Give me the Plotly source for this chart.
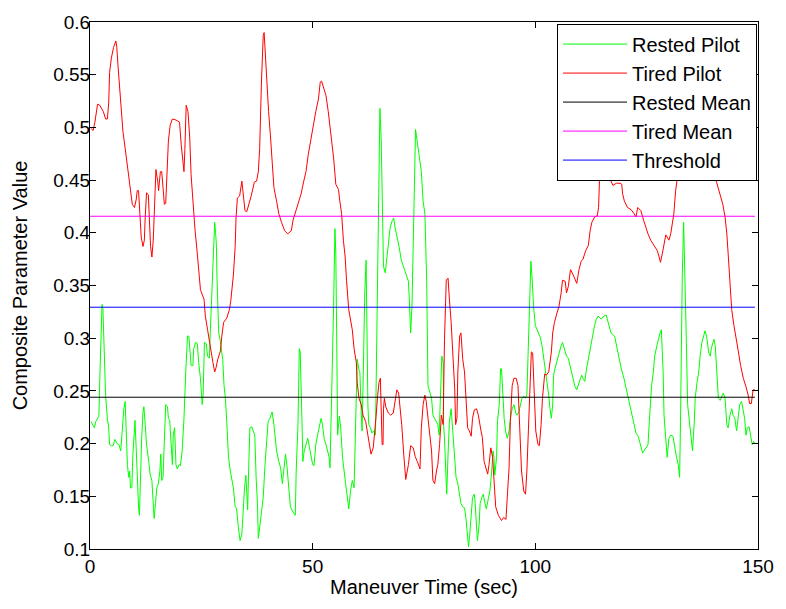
import plotly.graph_objects as go

# ---------------- data ----------------
tired_t = [0.2,0.7,1.1,1.7,2.2,3.0,3.5,3.9,4.2,4.4,4.8,5.3,5.8,6.0,6.3,6.7,7.0,7.4,7.9,8.5,9.1,9.5,10.0,10.4,10.6,10.9,11.2,11.5,11.9,12.2,12.4,12.7,13.1,13.3,13.6,13.9,14.2,14.6,14.8,15.2,15.4,15.8,16.1,16.4,16.7,17.0,17.3,17.6,18.0,18.5,19.3,20.1,20.5,20.9,21.1,21.3,21.6,22.0,22.4,22.7,23.2,23.6,24.1,24.4,24.8,25.6,25.9,26.4,26.8,27.2,27.6,28.0,28.3,28.7,29.3,29.6,30.0,30.7,31.3,31.6,32.0,32.2,32.6,32.8,33.1,33.6,34.1,34.4,34.8,35.2,35.7,36.2,36.9,37.4,37.8,38.1,38.5,38.9,39.1,39.4,39.8,40.1,40.5,40.9,41.3,41.9,42.4,43.0,43.7,44.4,45.2,45.6,46.1,46.7,47.4,48.0,48.5,49.0,49.6,50.2,50.7,51.3,51.7,52.0,52.4,53.0,53.5,54.1,54.7,55.2,55.8,56.1,56.5,56.9,57.3,57.6,58.1,58.9,59.3,59.8,60.0,60.4,60.9,61.3,61.9,62.4,62.8,63.1,63.6,63.9,64.2,64.6,64.9,65.2,65.4,65.6,65.8,65.9,66.1,66.4,67.0,67.5,68.1,68.4,68.9,69.3,69.6,70.0,70.5,70.9,71.5,72.0,72.6,73.0,73.5,74.1,74.4,74.8,75.2,75.5,75.9,76.3,76.7,77.0,77.4,77.8,78.1,78.5,78.9,79.3,79.6,80.0,80.4,80.7,81.1,81.5,81.9,82.1,82.4,82.6,83.0,83.3,83.7,84.1,84.4,84.8,85.2,85.6,85.9,86.3,86.8,87.2,87.8,88.1,88.5,88.9,89.3,89.6,90.0,90.4,90.7,91.1,91.7,92.4,92.9,93.4,93.7,94.1,94.4,94.8,95.2,95.7,96.1,96.4,96.9,97.4,97.8,98.1,98.5,98.9,99.1,99.4,99.7,100.1,100.6,100.9,101.3,101.6,102.1,102.5,103.0,103.6,103.9,104.3,104.8,105.3,105.8,106.1,106.7,107.0,107.4,107.9,108.5,109.3,109.8,110.3,110.7,111.3,111.9,112.3,112.7,113.3,113.9,114.2,114.4,114.8,115.3,115.8,116.3,117.0,117.4,118.2,119.0,119.4,119.6,120.0,120.7,121.5,122.2,122.6,123.0,123.7,124.3,124.8,125.3,125.9,126.7,127.4,127.8,128.1,128.5,128.9,129.3,129.6,130.0,130.4,130.7,131.1,131.5,131.7,132.3,133.0,134.0,135.0,136.0,137.0,138.0,139.0,140.0,140.7,141.5,142.1,142.6,143.0,143.3,143.6,144.1,144.6,145.2,145.6,146.1,146.7,147.3,147.8,148.1,148.5,148.9,149.3]
tired_v = [0.499,0.497,0.505,0.522,0.521,0.515,0.508,0.508,0.523,0.552,0.566,0.576,0.582,0.577,0.558,0.535,0.515,0.496,0.480,0.462,0.443,0.427,0.424,0.432,0.440,0.440,0.418,0.396,0.387,0.393,0.415,0.438,0.436,0.418,0.387,0.377,0.393,0.437,0.460,0.449,0.440,0.458,0.458,0.443,0.427,0.428,0.455,0.487,0.502,0.508,0.507,0.505,0.483,0.469,0.458,0.479,0.521,0.515,0.490,0.455,0.421,0.402,0.380,0.362,0.346,0.337,0.321,0.308,0.296,0.285,0.277,0.268,0.272,0.280,0.288,0.302,0.315,0.319,0.327,0.335,0.349,0.360,0.387,0.415,0.433,0.435,0.449,0.436,0.421,0.420,0.427,0.435,0.448,0.449,0.458,0.480,0.543,0.587,0.590,0.565,0.537,0.515,0.493,0.465,0.443,0.430,0.418,0.410,0.402,0.399,0.402,0.412,0.419,0.427,0.437,0.449,0.458,0.474,0.490,0.502,0.515,0.527,0.543,0.544,0.538,0.530,0.515,0.493,0.471,0.446,0.441,0.430,0.418,0.393,0.377,0.355,0.327,0.308,0.290,0.277,0.258,0.243,0.237,0.227,0.221,0.208,0.199,0.190,0.196,0.207,0.224,0.246,0.258,0.262,0.224,0.199,0.199,0.233,0.243,0.235,0.229,0.227,0.229,0.237,0.251,0.248,0.237,0.218,0.187,0.166,0.180,0.198,0.196,0.188,0.183,0.176,0.215,0.237,0.246,0.240,0.224,0.208,0.193,0.165,0.162,0.174,0.180,0.199,0.227,0.218,0.299,0.355,0.357,0.337,0.315,0.283,0.252,0.218,0.224,0.268,0.302,0.305,0.280,0.268,0.243,0.215,0.212,0.207,0.224,0.232,0.233,0.227,0.212,0.206,0.183,0.177,0.171,0.180,0.196,0.187,0.168,0.140,0.132,0.127,0.130,0.128,0.149,0.177,0.221,0.255,0.262,0.262,0.255,0.221,0.174,0.155,0.152,0.174,0.221,0.268,0.287,0.286,0.252,0.212,0.199,0.198,0.218,0.243,0.266,0.265,0.268,0.287,0.305,0.315,0.323,0.330,0.343,0.355,0.354,0.343,0.349,0.365,0.360,0.352,0.365,0.373,0.375,0.383,0.388,0.402,0.410,0.415,0.416,0.424,0.449,0.470,0.480,0.470,0.460,0.449,0.445,0.447,0.447,0.446,0.437,0.430,0.424,0.422,0.418,0.415,0.424,0.421,0.412,0.405,0.399,0.393,0.387,0.383,0.377,0.372,0.380,0.390,0.398,0.396,0.393,0.399,0.408,0.418,0.440,0.447,0.465,0.475,0.480,0.485,0.490,0.485,0.480,0.470,0.460,0.448,0.437,0.427,0.415,0.399,0.380,0.360,0.327,0.312,0.299,0.287,0.274,0.262,0.254,0.246,0.238,0.238,0.251,0.251]

rested_t = [0.2,0.5,1.0,1.3,1.7,2.0,2.2,2.4,2.7,2.9,3.2,3.5,3.9,4.2,4.4,4.8,5.2,5.6,6.1,6.5,6.9,7.3,7.6,7.9,8.1,8.4,8.7,8.9,9.1,9.4,9.6,9.9,10.1,10.4,10.6,10.9,11.1,11.3,11.6,11.9,12.1,12.4,12.7,13.2,13.5,13.9,14.2,14.4,14.7,15.0,15.3,15.7,15.9,16.1,16.4,16.7,17.0,17.4,17.6,17.9,18.3,18.5,18.7,19.0,19.3,19.6,20.0,20.3,20.7,21.1,21.5,21.9,22.2,22.4,22.7,23.1,23.3,23.7,24.1,24.4,24.8,25.2,25.4,25.7,26.1,26.4,26.8,27.0,27.4,27.7,28.0,28.2,28.4,28.5,28.7,28.9,29.2,29.5,29.8,30.1,30.4,30.7,31.1,31.5,31.9,32.2,32.6,32.9,33.3,33.7,34.1,34.3,34.7,35.0,35.2,35.4,35.7,35.9,36.3,36.7,37.0,37.3,37.6,37.8,38.1,38.5,38.9,39.3,39.6,40.0,40.4,40.9,41.3,41.9,42.4,42.8,43.2,43.5,43.9,44.2,44.6,45.0,45.6,46.1,46.3,46.7,47.0,47.2,47.6,47.8,48.1,48.5,48.9,49.3,49.6,50.0,50.3,50.7,51.1,51.5,51.9,52.2,52.6,53.0,53.3,53.7,53.9,54.2,54.4,54.7,55.0,55.2,55.4,55.6,56.0,56.3,56.7,57.0,57.4,57.8,58.1,58.5,58.9,59.3,59.5,59.8,60.0,60.4,60.6,60.9,61.1,61.3,61.5,61.7,62.0,62.2,62.4,62.6,63.0,63.3,63.7,64.1,64.3,64.5,64.8,65.1,65.4,65.7,65.9,66.3,66.7,67.0,67.4,67.9,68.2,68.5,69.0,69.4,69.9,70.4,70.9,71.5,71.7,72.0,72.3,72.6,73.1,73.5,74.1,74.4,74.8,75.2,75.4,75.6,75.9,76.3,76.7,77.0,77.4,77.8,78.1,78.4,78.7,79.0,79.3,79.4,79.6,79.9,80.1,80.4,80.7,81.1,81.3,81.6,82.0,82.2,82.6,83.0,83.3,83.7,84.1,84.4,84.8,85.0,85.3,85.6,85.9,86.3,86.5,86.8,87.0,87.4,87.6,88.0,88.3,88.7,89.0,89.5,89.8,90.2,90.5,90.7,90.9,91.3,91.5,91.9,92.2,92.4,92.7,93.0,93.3,93.7,94.1,94.4,94.8,95.2,95.6,95.9,96.3,96.7,97.0,97.4,97.8,98.1,98.5,98.9,99.0,99.3,99.6,100.0,100.4,100.7,101.1,101.5,101.9,102.2,102.6,103.0,103.3,103.6,103.9,104.1,104.4,104.8,105.3,105.8,106.1,106.5,107.0,107.4,107.8,108.1,108.5,108.9,109.3,109.6,110.0,110.4,110.7,111.1,111.5,111.9,112.2,112.6,113.0,113.3,113.7,114.1,114.8,115.4,115.9,116.4,117.0,117.8,118.1,118.5,118.9,119.3,119.9,120.4,120.9,121.5,122.1,122.6,123.1,123.6,124.1,124.4,124.9,125.3,125.6,125.8,126.1,126.5,126.8,127.3,127.6,128.0,128.3,128.5,128.7,128.9,129.3,129.6,130.0,130.4,130.9,131.2,131.7,132.1,132.4,132.6,132.8,133.0,133.3,133.5,133.7,133.9,134.2,134.6,134.9,135.3,135.7,135.9,136.3,136.7,137.0,137.4,137.8,138.1,138.5,138.9,139.3,139.5,139.9,140.1,140.4,140.7,141.1,141.5,141.9,142.2,142.6,143.0,143.3,143.7,144.1,144.4,144.8,145.2,145.6,145.9,146.3,146.7,147.0,147.3,147.6,148.0,148.4,148.7,149.0,149.3]
rested_v = [0.221,0.219,0.215,0.221,0.224,0.226,0.262,0.290,0.332,0.328,0.293,0.246,0.224,0.215,0.199,0.198,0.198,0.204,0.200,0.199,0.193,0.221,0.233,0.240,0.221,0.180,0.168,0.174,0.158,0.158,0.187,0.218,0.222,0.193,0.168,0.140,0.132,0.174,0.205,0.230,0.235,0.218,0.199,0.183,0.171,0.165,0.138,0.129,0.143,0.158,0.161,0.174,0.190,0.165,0.168,0.215,0.237,0.235,0.224,0.222,0.199,0.180,0.208,0.215,0.180,0.176,0.180,0.179,0.193,0.224,0.268,0.302,0.302,0.293,0.274,0.274,0.290,0.296,0.295,0.277,0.262,0.237,0.246,0.296,0.295,0.283,0.281,0.305,0.346,0.390,0.410,0.400,0.387,0.360,0.330,0.305,0.299,0.288,0.280,0.255,0.243,0.221,0.187,0.174,0.162,0.158,0.140,0.139,0.121,0.108,0.114,0.133,0.158,0.170,0.155,0.137,0.187,0.215,0.216,0.212,0.208,0.168,0.143,0.110,0.121,0.135,0.149,0.180,0.202,0.221,0.224,0.230,0.218,0.193,0.183,0.177,0.162,0.174,0.190,0.180,0.158,0.140,0.135,0.132,0.174,0.218,0.290,0.287,0.221,0.183,0.193,0.199,0.205,0.196,0.190,0.180,0.179,0.199,0.208,0.215,0.224,0.218,0.204,0.199,0.193,0.187,0.177,0.227,0.283,0.330,0.404,0.380,0.300,0.208,0.226,0.215,0.187,0.174,0.162,0.149,0.138,0.155,0.165,0.158,0.187,0.227,0.280,0.270,0.268,0.230,0.212,0.252,0.299,0.343,0.374,0.300,0.237,0.218,0.215,0.210,0.212,0.208,0.268,0.370,0.450,0.518,0.487,0.418,0.368,0.362,0.380,0.393,0.405,0.412,0.414,0.405,0.396,0.387,0.374,0.368,0.362,0.354,0.337,0.305,0.330,0.400,0.498,0.486,0.470,0.458,0.430,0.418,0.387,0.355,0.255,0.249,0.243,0.227,0.224,0.221,0.218,0.208,0.252,0.283,0.277,0.218,0.205,0.168,0.152,0.190,0.221,0.233,0.221,0.199,0.180,0.168,0.162,0.149,0.143,0.140,0.139,0.130,0.115,0.102,0.115,0.137,0.149,0.152,0.143,0.121,0.108,0.124,0.143,0.149,0.152,0.143,0.138,0.149,0.155,0.174,0.193,0.187,0.170,0.187,0.221,0.237,0.271,0.271,0.243,0.224,0.212,0.205,0.212,0.224,0.233,0.237,0.229,0.227,0.230,0.238,0.243,0.245,0.243,0.246,0.299,0.355,0.373,0.355,0.330,0.312,0.308,0.305,0.301,0.293,0.280,0.271,0.262,0.246,0.233,0.224,0.237,0.265,0.271,0.277,0.287,0.293,0.296,0.290,0.283,0.281,0.274,0.268,0.262,0.254,0.251,0.255,0.262,0.265,0.262,0.259,0.271,0.280,0.290,0.299,0.305,0.312,0.318,0.321,0.318,0.321,0.322,0.315,0.305,0.302,0.296,0.287,0.277,0.271,0.262,0.252,0.243,0.233,0.221,0.210,0.207,0.199,0.191,0.193,0.196,0.199,0.221,0.237,0.255,0.268,0.283,0.293,0.299,0.305,0.308,0.290,0.268,0.227,0.205,0.187,0.205,0.208,0.207,0.199,0.187,0.180,0.168,0.221,0.315,0.360,0.410,0.360,0.330,0.299,0.237,0.221,0.212,0.193,0.221,0.243,0.258,0.268,0.283,0.296,0.302,0.307,0.301,0.287,0.283,0.290,0.296,0.299,0.293,0.271,0.243,0.241,0.246,0.248,0.243,0.218,0.215,0.227,0.233,0.227,0.224,0.212,0.227,0.237,0.240,0.230,0.224,0.208,0.215,0.216,0.208,0.199,0.202,0.200]

mean_t = [0.0, 149.3]
rested_mean = 0.2440
tired_mean = 0.4157
threshold = 0.3294

x_ticks = [0, 50, 100, 150]
y_ticks = [0.1, 0.15, 0.2, 0.25, 0.3, 0.35, 0.4, 0.45, 0.5, 0.55, 0.6]
y_tick_text = ["0.1", "0.15", "0.2", "0.25", "0.3", "0.35", "0.4", "0.45", "0.5", "0.55", "0.6"]

FONT = "Liberation Sans, Arial, sans-serif"

fig = go.Figure()
fig.add_trace(go.Scatter(x=rested_t, y=rested_v, mode="lines", name="Rested Pilot",
                         line=dict(color="#00FF00", width=1)))
fig.add_trace(go.Scatter(x=tired_t, y=tired_v, mode="lines", name="Tired Pilot",
                         line=dict(color="#FF0000", width=1)))
fig.add_trace(go.Scatter(x=mean_t, y=[rested_mean] * len(mean_t), mode="lines", name="Rested Mean",
                         line=dict(color="#000000", width=1)))
fig.add_trace(go.Scatter(x=mean_t, y=[tired_mean] * len(mean_t), mode="lines", name="Tired Mean",
                         line=dict(color="#FF00FF", width=1)))
fig.add_trace(go.Scatter(x=mean_t, y=[threshold] * len(mean_t), mode="lines", name="Threshold",
                         line=dict(color="#0000FF", width=1)))

axis_common = dict(showgrid=False, zeroline=False, showline=True, linecolor="black", linewidth=1,
                   mirror="ticks", ticks="inside", ticklen=6, tickcolor="black", tickwidth=1,
                   tickfont=dict(family=FONT, size=19, color="black"))

fig.update_layout(
    width=786, height=609,
    margin=dict(l=90, r=21, t=16, b=60),
    paper_bgcolor="white", plot_bgcolor="white",
    font=dict(family=FONT, size=19, color="black"),
    xaxis=dict(range=[0, 150], tickvals=x_ticks,
               title=dict(text="Maneuver Time (sec)", font=dict(family=FONT, size=20), standoff=4),
               **axis_common),
    yaxis=dict(range=[0.1, 0.6], tickvals=y_ticks, ticktext=y_tick_text,
               ticklabelstandoff=-5,
               title=dict(text="Composite Parameter Value", font=dict(family=FONT, size=20), standoff=20),
               **axis_common),
    legend=dict(x=0.9985, y=0.997, xanchor="right", yanchor="top",
                bgcolor="white", bordercolor="black", borderwidth=1,
                font=dict(family=FONT, size=20, color="black"),
                itemwidth=64),
    showlegend=True,
)

fig.write_html("out.html")
